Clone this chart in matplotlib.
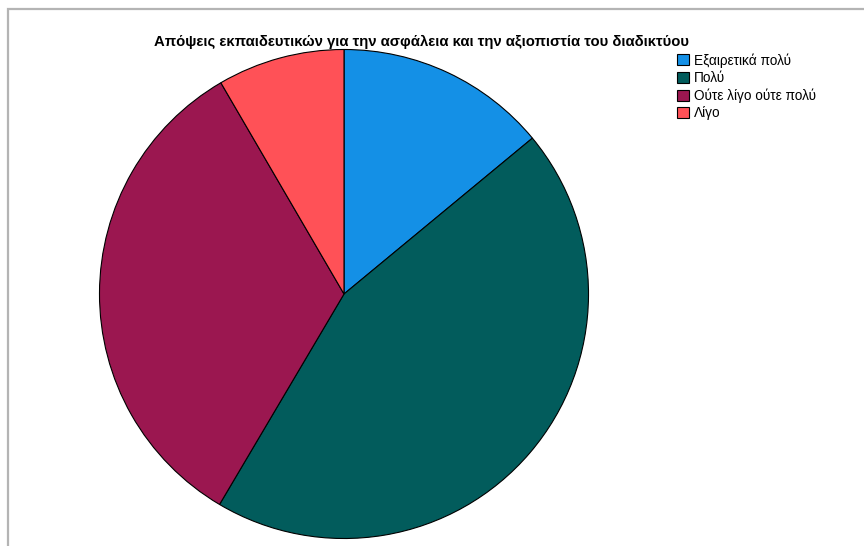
import matplotlib.pyplot as plt
from matplotlib.patches import Rectangle

plt.rcParams['font.family'] = ['Liberation Sans', 'DejaVu Sans']

labels = ['Εξαιρετικά πολύ', 'Πολύ', 'Ούτε λίγο ούτε πολύ', 'Λίγο']
values = [14.0, 44.5, 33.1, 8.4]
colors = ['#1490E6', '#025C5C', '#9B1750', '#FF5157']
title = 'Απόψεις εκπαιδευτικών για την ασφάλεια και την αξιοπιστία του διαδικτύου'

W, H = 864, 546
fig = plt.figure(figsize=(W / 100, H / 100), dpi=100)

# grey frame, left and top edges only visible
fig.add_artist(Rectangle((8 / W, -0.1), 1.2, 1 - 9 / H + 0.1, transform=fig.transFigure,
                         fill=False, edgecolor='#b4b4b4', linewidth=1.6))

# pie axes: centre (344, 294) px, radius 245 px
cx, cy, r = 344, 294, 245
ax = fig.add_axes([(cx - r) / W, (H - cy - r) / H, 2 * r / W, 2 * r / H])
wedges, _ = ax.pie(values, colors=colors, startangle=90, counterclock=False, radius=1,
                   wedgeprops=dict(edgecolor='black', linewidth=0.8))
ax.set_xlim(-1.002, 1.002)
ax.set_ylim(-1.002, 1.002)
ax.axis('off')

fig.text(421 / W, 1 - 41.5 / H, title, ha='center', va='center', fontsize=10.7, fontweight='bold')

fig.legend(wedges, labels, loc='upper left', bbox_to_anchor=(677 / W, 1 - 53 / H),
           frameon=False, fontsize=9.8, handlelength=0.85, handleheight=0.85,
           handletextpad=0.4, labelspacing=0.25, borderpad=0, borderaxespad=0)

fig.savefig('out.png', dpi=100)
